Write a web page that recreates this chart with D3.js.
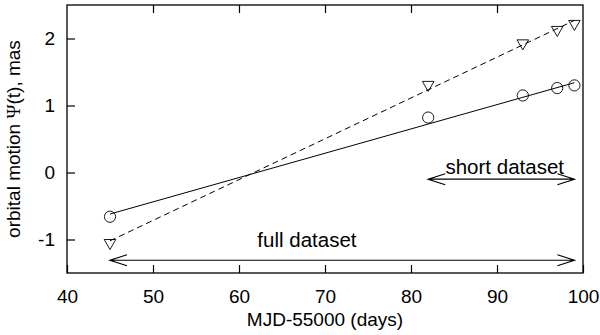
<!DOCTYPE html>
<html>
<head>
<meta charset="utf-8">
<script src="https://cdn.jsdelivr.net/npm/d3@7"></script>
<style>
  body { margin: 0; background: #fff; }
  svg { display: block; font-family: "Liberation Sans", Arial, sans-serif; }
</style>
</head>
<body>
<div id="chart"></div>
<script>
// observations (MJD-55000, orbital motion in mas)
const epochs = [45, 82, 93, 97, 99];
const fullFit = [-0.66, 0.82, 1.15, 1.26, 1.30];    // circles
const shortFit = [-1.05, 1.31, 1.93, 2.13, 2.22];   // triangles

// straight-line fits, evaluated at the ends of the data span
const fitEnds = [45, 99];
const solidLine = [-0.62, 1.34];
const dashedLine = [-1.02, 2.27];

// dataset ranges marked with double arrows
const fullRange = [45, 99], fullArrowY = -1.31;
const shortRange = [82, 99], shortArrowY = -0.10;
const labels = [
    { text: "full dataset", x: 67.9, y: -1.11 },
    { text: "short dataset", x: 90.9, y: -0.015 }
];

const xTicks = [40, 50, 60, 70, 80, 90, 100];
const yTicks = [-1, 0, 1, 2];

const W = 600, H = 335;
const margin = { top: 5, right: 17, bottom: 62, left: 67 };
const width = W - margin.left - margin.right;
const height = H - margin.top - margin.bottom;

const svg = d3.select("#chart").append("svg")
    .attr("width", W)
    .attr("height", H);

const g = svg.append("g")
    .attr("transform", `translate(${margin.left},${margin.top})`);

const x = d3.scaleLinear().domain([40, 100]).range([0, width]);
const y = d3.scaleLinear().domain([-1.5, 2.5]).range([height, 0]);

// Axes (ticks pointing inwards)
const xAxis = g.append("g")
    .attr("transform", `translate(0,${height})`)
    .call(d3.axisBottom(x).tickValues(xTicks).tickSize(-8).tickPadding(17).tickFormat(d => String(d)));
const xTop = g.append("g")
    .call(d3.axisTop(x).tickValues(xTicks.slice(1, -1)).tickSize(-8).tickFormat(""));
const yAxis = g.append("g")
    .call(d3.axisLeft(y).tickValues(yTicks).tickSize(-8).tickPadding(12).tickFormat(d => String(d)));

[xAxis, xTop, yAxis].forEach(a => {
    a.select(".domain").remove();
    a.selectAll("line").attr("stroke", "#000").attr("stroke-width", 1.2);
    a.selectAll("text").attr("fill", "#000").style("font-size", "19px")
        .style("font-family", "'Liberation Sans', Arial, sans-serif");
});

// Frame
g.append("rect")
    .attr("width", width)
    .attr("height", height)
    .attr("fill", "none")
    .attr("stroke", "#000")
    .attr("stroke-width", 1.3);

// Fit lines
const fitData = fitEnds.map((d, i) => ({ x: d, s: solidLine[i], d: dashedLine[i] }));
g.append("path")
    .datum(fitData)
    .attr("fill", "none")
    .attr("stroke", "#000")
    .attr("stroke-width", 1)
    .attr("d", d3.line().x(d => x(d.x)).y(d => y(d.s)));
g.append("path")
    .datum(fitData)
    .attr("fill", "none")
    .attr("stroke", "#000")
    .attr("stroke-width", 1)
    .attr("stroke-dasharray", "6,4")
    .attr("d", d3.line().x(d => x(d.x)).y(d => y(d.d)));

// Points
g.selectAll(".circ")
    .data(epochs)
    .enter().append("circle")
    .attr("cx", d => x(d))
    .attr("cy", (d, i) => y(fullFit[i]))
    .attr("r", 5.6)
    .attr("fill", "none")
    .attr("stroke", "#000")
    .attr("stroke-width", 0.9);

const tri = d3.symbol().type(d3.symbolTriangle).size(58);
g.selectAll(".tri")
    .data(epochs)
    .enter().append("path")
    .attr("d", tri)
    .attr("transform", (d, i) => `translate(${x(d)},${y(shortFit[i])}) rotate(180)`)
    .attr("fill", "none")
    .attr("stroke", "#000")
    .attr("stroke-width", 0.9);

// Double arrows with open heads
function doubleArrow(range, yv) {
    const x0 = x(range[0]), x1 = x(range[1]), yy = y(yv);
    const hl = 17, hw = 5.5;
    g.append("path")
        .attr("fill", "none")
        .attr("stroke", "#000")
        .attr("stroke-width", 1.2)
        .attr("d", `M${x0},${yy}H${x1}` +
            `M${x0 + hl},${yy - hw}L${x0},${yy}L${x0 + hl},${yy + hw}` +
            `M${x1 - hl},${yy - hw}L${x1},${yy}L${x1 - hl},${yy + hw}`);
}
doubleArrow(fullRange, fullArrowY);
doubleArrow(shortRange, shortArrowY);

g.selectAll(".lbl")
    .data(labels)
    .enter().append("text")
    .attr("x", d => x(d.x))
    .attr("y", d => y(d.y))
    .attr("text-anchor", "middle")
    .style("font-size", "20.5px")
    .text(d => d.text);

// Axis titles
svg.append("text")
    .attr("x", margin.left + width / 2)
    .attr("y", 326)
    .attr("text-anchor", "middle")
    .style("font-size", "19px")
    .text("MJD-55000 (days)");

const yt = svg.append("text")
    .attr("transform", `translate(20,${margin.top + height / 2}) rotate(-90)`)
    .attr("text-anchor", "middle")
    .style("font-size", "19px");
yt.append("tspan").text("orbital motion ");
yt.append("tspan").style("font-family", "'Liberation Serif', serif").text("Ψ");
yt.append("tspan").text("(t), mas");
</script>
</body>
</html>
